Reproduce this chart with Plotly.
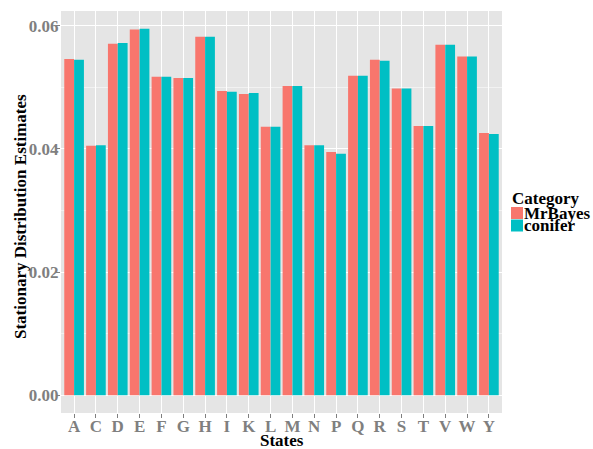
import plotly.graph_objects as go

states = ["A","C","D","E","F","G","H","I","K","L","M","N","P","Q","R","S","T","V","W","Y"]
mrbayes = [0.0546,0.0405,0.0571,0.0594,0.0517,0.0515,0.0582,0.0494,0.0489,0.0436,0.0502,
           0.0406,0.0395,0.0519,0.0545,0.0498,0.0437,0.0569,0.0550,0.0426]
conifer = [0.0545,0.0406,0.0572,0.0595,0.0517,0.0515,0.0582,0.0493,0.0491,0.0436,0.0502,
           0.0406,0.0392,0.0519,0.0543,0.0498,0.0437,0.0569,0.0550,0.0424]
series_names = ["MrBayes", "conifer"]
colors = ["#F8766D", "#00BFC4"]

W, H = 593, 449
L, R, T, B = 61, 502, 11, 413

fig = go.Figure()
for name, vals, col in zip(series_names, [mrbayes, conifer], colors):
    fig.add_trace(go.Bar(x=states, y=vals, name=name, marker=dict(color=col, line=dict(width=0)),
                         showlegend=False))

font_fam = "Liberation Serif, Times New Roman, serif"
fig.update_layout(
    width=W, height=H,
    margin=dict(l=L, r=W - R, t=T, b=H - B, pad=0, autoexpand=False),
    paper_bgcolor="white", plot_bgcolor="#E5E5E5",
    barmode="group", bargap=0.1, bargroupgap=0,
    font=dict(family=font_fam, size=16, color="black", weight="bold"),
)
fig.update_xaxes(
    type="category", range=[-0.6, 19.6], automargin=False,
    showgrid=True, gridcolor="white", gridwidth=1,
    ticks="outside", ticklen=4, tickcolor="#7F7F7F", tickwidth=1,
    tickfont=dict(family=font_fam, size=17, color="#7F7F7F", weight="bold"),
    ticklabelstandoff=-6,
    showline=False, zeroline=False,
)
fig.update_yaxes(
    range=[-0.0029, 0.0624], dtick=0.02, tick0=0, tickformat=".2f", automargin=False,
    showgrid=True, gridcolor="white", gridwidth=1,
    minor=dict(showgrid=True, gridcolor="#F2F2F2", gridwidth=0.5, dtick=0.01, tick0=0),
    ticks="outside", ticklen=4, tickcolor="#7F7F7F", tickwidth=1,
    tickfont=dict(family=font_fam, size=17, color="#7F7F7F", weight="bold"),
    ticklabelstandoff=-6,
    showline=False, zeroline=False,
)

def px(x):
    return (x - L) / (R - L)

def py(y):
    return (B - y) / (B - T)

title_font = dict(family=font_fam, size=17, color="black", weight="bold")
# axis titles
fig.add_annotation(x=px(282), y=py(440), xref="paper", yref="paper", text="States",
                   showarrow=False, xanchor="center", yanchor="middle", font=title_font)
fig.add_annotation(x=px(20), y=py(217), xref="paper", yref="paper",
                   text="Stationary Distribution Estimates", textangle=-90,
                   showarrow=False, xanchor="center", yanchor="middle", font=title_font)

# manual legend
fig.add_annotation(x=px(546), y=py(198), xref="paper", yref="paper", text="Category",
                   showarrow=False, xanchor="center", yanchor="middle",
                   borderpad=0, font=title_font)
for i, (name, col) in enumerate(zip(series_names, colors)):
    y0 = 207 + i * 12.5
    fig.add_shape(type="rect", xref="paper", yref="paper",
                  x0=px(511), x1=px(523), y0=py(y0), y1=py(y0 + 12),
                  fillcolor=col, line=dict(width=0))
    fig.add_annotation(x=px(523), y=py(y0 + 6), xref="paper", yref="paper", text=name,
                       showarrow=False, xanchor="left", yanchor="middle", align="left",
                       borderpad=0, font=title_font)

fig.write_html("out.html", config={"displayModeBar": False},
               post_script="document.body.style.margin='0px';document.body.style.overflow='hidden';")
